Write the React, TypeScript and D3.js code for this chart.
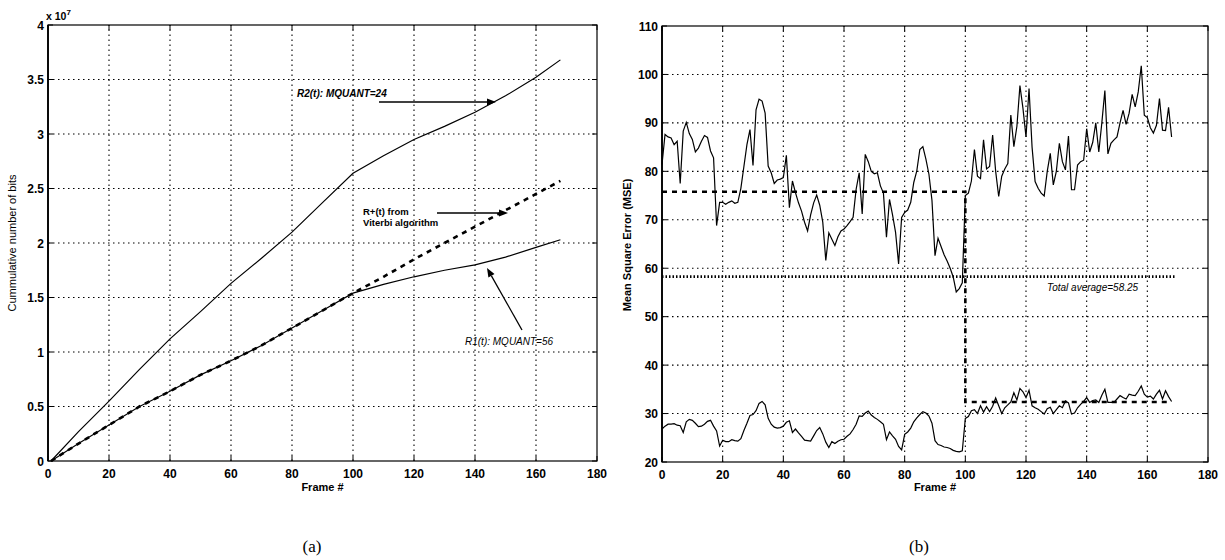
import React from 'react';
import * as d3 from 'd3';

// ---- data ----
const frameTicks = [0, 20, 40, 60, 80, 100, 120, 140, 160, 180];
const bitsTicks = [0, 0.5, 1, 1.5, 2, 2.5, 3, 3.5, 4]; // x 10^7
const mseTicks = [20, 30, 40, 50, 60, 70, 80, 90, 100, 110];

// (a) cumulative number of bits, in units of 10^7
const cumFrames = [1, 10, 20, 30, 40, 50, 60, 70, 80, 90, 100, 110, 120, 130, 140, 150, 160, 168];
const bitsR2 = [0, 0.27, 0.55, 0.84, 1.12, 1.37, 1.63, 1.86, 2.1, 2.37, 2.64, 2.8, 2.95, 3.07, 3.2, 3.35, 3.52, 3.68];
const bitsR1 = [0, 0.16, 0.33, 0.5, 0.64, 0.79, 0.92, 1.06, 1.22, 1.38, 1.54, 1.62, 1.69, 1.75, 1.8, 1.87, 1.96, 2.03];
const bitsViterbi = [0, 0.16, 0.33, 0.5, 0.64, 0.79, 0.92, 1.06, 1.22, 1.38, 1.54, 1.69, 1.85, 2.0, 2.15, 2.3, 2.45, 2.57];

// (b) MSE per frame, frames 0..168
const mseQuant56 = [
  81.4, 87.6, 87.1, 86.9, 85.5, 86.2, 77.5, 88.3, 90.1, 87.8,
  86.6, 84.0, 84.8, 86.2, 87.4, 87.0, 84.2, 82.8, 68.8, 73.6,
  73.6, 73.2, 73.6, 73.9, 73.4, 73.6, 76.5, 81.0, 85.5, 88.6,
  81.2, 92.7, 94.9, 94.5, 92.0, 81.1, 79.7, 77.5, 78.2, 78.4,
  78.7, 83.3, 72.5, 78.0, 75.6, 73.5, 71.8, 69.5, 67.7, 71.0,
  73.5, 75.1, 73.0, 69.5, 61.6, 67.3, 66.0, 64.7, 66.5, 67.7,
  68.1, 68.8, 69.6, 70.5, 76.3, 79.7, 71.2, 83.5, 82.0, 80.0,
  79.5, 79.7, 77.0, 75.5, 66.4, 74.2, 71.0, 67.4, 60.9, 70.5,
  71.5, 72.0, 73.6, 77.7, 80.1, 84.5, 85.1, 82.5, 79.4, 74.0,
  62.6, 66.2, 64.5, 62.8, 61.5, 60.0, 58.2, 55.1, 55.8, 57.0,
  75.0, 75.5, 78.0, 84.5, 79.0, 78.5, 86.5, 80.5, 81.0, 87.5,
  80.0, 74.8, 79.0, 80.5, 81.6, 91.6, 85.1, 89.3, 97.7, 93.0,
  87.1, 97.1, 85.0, 77.9, 76.5, 75.5, 74.9, 80.0, 83.7, 77.2,
  80.0, 85.8, 82.0, 80.3, 87.3, 76.2, 76.2, 81.3, 82.0, 82.3,
  88.8, 84.0, 86.0, 90.0, 84.0, 90.0, 96.7, 83.6, 85.8, 86.5,
  87.1, 90.0, 92.6, 89.7, 92.0, 95.9, 93.3, 96.4, 101.8, 91.6,
  91.1, 89.0, 87.9, 89.5, 95.0, 88.5, 88.4, 93.2, 87.1,
];
const mseQuant24 = [
  26.8, 27.4, 27.8, 27.8, 27.9, 27.6, 27.5, 26.1, 28.3, 28.8,
  28.6, 28.0, 27.3, 27.4, 27.8, 28.4, 28.6, 27.4, 26.4, 23.3,
  24.5, 24.2, 24.2, 24.6, 24.4, 24.3, 24.8, 26.5, 28.0, 29.6,
  29.8, 30.6, 32.1, 32.5, 31.8, 29.0, 27.8, 27.2, 27.0, 27.1,
  27.4, 28.2, 28.5, 26.1, 26.8, 26.0, 25.3, 24.5, 24.4, 24.3,
  25.4, 26.5, 27.1, 25.8, 24.1, 23.0, 24.2, 23.8, 24.3, 24.6,
  24.7, 25.3, 25.8, 26.7, 27.8, 29.5, 29.4, 30.1, 30.5, 29.7,
  29.2, 28.8, 28.3, 27.8, 24.6, 26.2, 25.4, 24.7, 23.2, 22.5,
  25.7, 26.2, 27.0, 28.3, 29.1, 29.8, 30.4, 30.1, 29.5, 28.0,
  24.4, 23.6, 23.4, 23.1, 23.0, 22.8, 22.4, 22.2, 22.1, 22.3,
  29.0, 29.4, 30.6, 30.8, 30.0, 31.6, 30.3, 31.4, 30.4, 31.5,
  33.2, 31.6, 30.0, 31.2, 31.8, 32.4, 34.3, 32.8, 35.2, 34.5,
  33.3, 34.8, 31.6, 31.2, 30.9, 30.4, 29.9, 31.0, 31.3, 30.0,
  30.8, 31.6, 31.2, 32.6, 32.2, 29.9, 30.1, 31.2, 31.9, 32.5,
  33.3, 32.3, 32.7, 32.8, 32.3, 33.8, 35.0, 32.3, 32.3, 32.3,
  33.0, 33.7, 33.3, 33.0, 34.0, 33.8, 33.7, 34.6, 35.7, 34.0,
  33.4, 33.6, 33.0, 34.0, 34.8, 33.0, 34.7, 33.5, 32.5,
];
const viterbiFrames = [0, 100, 100, 168];
const viterbiMse = [75.8, 75.8, 32.4, 32.4];
const averageFrames = [0, 169];
const totalAverage = 58.25;

const FONT = '"Liberation Sans", Arial, Helvetica, sans-serif';
const SERIF = "'Liberation Serif', 'Times New Roman', serif";

type Lin = d3.ScaleLinear<number, number>;

function Axes({ x, y, xTicks, yTicks, fmt }: { x: Lin; y: Lin; xTicks: number[]; yTicks: number[]; fmt: (v: number) => string }) {
  const [x0, x1] = x.range();
  const [y0, y1] = y.range(); // y0 bottom, y1 top
  const tl = 5;
  return (
    <g>
      {/* dotted grid */}
      {xTicks.slice(1, -1).map((t) => (
        <line key={'gx' + t} x1={x(t)} x2={x(t)} y1={y0} y2={y1} stroke="#000" strokeWidth={1.1} strokeDasharray="1.5,3.5" />
      ))}
      {yTicks.slice(1, -1).map((t) => (
        <line key={'gy' + t} x1={x0} x2={x1} y1={y(t)} y2={y(t)} stroke="#000" strokeWidth={1.1} strokeDasharray="1.5,3.5" />
      ))}
      {/* ticks on all four sides, pointing in */}
      {xTicks.map((t) => (
        <g key={'tx' + t}>
          <line x1={x(t)} x2={x(t)} y1={y0} y2={y0 - tl} stroke="#000" />
          <line x1={x(t)} x2={x(t)} y1={y1} y2={y1 + tl} stroke="#000" />
          <text x={x(t)} y={y0 + 17} textAnchor="middle" fontFamily={FONT} fontWeight="bold" fontSize={12}>{t}</text>
        </g>
      ))}
      {yTicks.map((t) => (
        <g key={'ty' + t}>
          <line x1={x0} x2={x0 + tl} y1={y(t)} y2={y(t)} stroke="#000" />
          <line x1={x1} x2={x1 - tl} y1={y(t)} y2={y(t)} stroke="#000" />
          <text x={x0 - 4} y={y(t) + 4.5} textAnchor="end" fontFamily={FONT} fontWeight="bold" fontSize={12}>{fmt(t)}</text>
        </g>
      ))}
      <rect x={x0} y={y1} width={x1 - x0} height={y0 - y1} fill="none" stroke="#000" strokeWidth={1.2} />
      <line x1={x0} x2={x0} y1={y0} y2={y1} stroke="#000" strokeWidth={1.8} />
    </g>
  );
}

function Arrow({ x1, y1, x2, y2 }: { x1: number; y1: number; x2: number; y2: number }) {
  const a = Math.atan2(y2 - y1, x2 - x1);
  const L = 9, W = 3.5;
  const bx = x2 - L * Math.cos(a), by = y2 - L * Math.sin(a);
  const px = -Math.sin(a) * W, py = Math.cos(a) * W;
  return (
    <g>
      <line x1={x1} y1={y1} x2={bx} y2={by} stroke="#000" strokeWidth={1.3} />
      <path d={`M${x2},${y2}L${bx + px},${by + py}L${bx - px},${by - py}Z`} fill="#000" />
    </g>
  );
}

export default function App() {
  // panel (a)
  const xa = d3.scaleLinear().domain([0, 180]).range([48, 597]);
  const ya = d3.scaleLinear().domain([0, 4]).range([461, 25]);
  const lineA = (vals: number[]) =>
    d3.line<number>().x((_, i) => xa(cumFrames[i])).y((v) => ya(v))(vals) || '';

  // panel (b)
  const xb = d3.scaleLinear().domain([0, 180]).range([662, 1208]);
  const yb = d3.scaleLinear().domain([20, 110]).range([462, 26]);
  const lineB = d3.line<number>().x((_, i) => xb(i)).y((v) => yb(v));
  const viterbiPath = d3.line<number>().x((_, i) => xb(viterbiFrames[i])).y((v) => yb(v))(viterbiMse) || '';
  const avgPath = d3.line<number>().x((f) => xb(f)).y(() => yb(totalAverage))(averageFrames) || '';

  return (
    <svg width={1225} height={560} style={{ position: 'absolute', left: 0, top: 0, background: '#fff' }}>
      <rect width={1225} height={560} fill="#fff" />

      {/* ---------- (a) ---------- */}
      <Axes x={xa} y={ya} xTicks={frameTicks} yTicks={bitsTicks} fmt={(v) => String(v)} />
      <path d={lineA(bitsR2)} fill="none" stroke="#000" strokeWidth={1.2} />
      <path d={lineA(bitsR1)} fill="none" stroke="#000" strokeWidth={1.2} />
      <path d={lineA(bitsViterbi)} fill="none" stroke="#000" strokeWidth={2.6} strokeDasharray="5,5" />

      <text x={46} y={20} fontFamily={FONT} fontSize={10.5} fontWeight="bold">
        x 10<tspan dy={-5} fontSize={8}>7</tspan>
      </text>
      <text transform="translate(16,243) rotate(-90)" textAnchor="middle" fontFamily={FONT} fontSize={11}>
        Cummulative number of bits
      </text>
      <text x={xa(90)} y={491} textAnchor="middle" fontFamily={FONT} fontWeight="bold" fontSize={11}>Frame #</text>

      <text x={297} y={97} fontFamily={FONT} fontSize={10} fontStyle="italic" fontWeight="bold">R2(t): MQUANT=24</text>
      <Arrow x1={379} y1={102} x2={496} y2={102} />
      <text x={363} y={215} fontFamily={FONT} fontSize={9.5} fontWeight="bold">R+(t) from</text>
      <text x={363} y={226} fontFamily={FONT} fontSize={9.5} fontWeight="bold">Viterbi algorithm</text>
      <Arrow x1={437} y1={213} x2={508} y2={213} />
      <text x={465} y={345} fontFamily={FONT} fontSize={10} fontStyle="italic">R1(t): MQUANT=56</text>
      <Arrow x1={522} y1={330} x2={487} y2={268} />

      <text x={312} y={552} textAnchor="middle" fontFamily={SERIF} fontSize={17}>(a)</text>

      {/* ---------- (b) ---------- */}
      <Axes x={xb} y={yb} xTicks={frameTicks} yTicks={mseTicks} fmt={(v) => String(v)} />
      <path d={lineB(mseQuant56) || ''} fill="none" stroke="#000" strokeWidth={1.2} />
      <path d={lineB(mseQuant24) || ''} fill="none" stroke="#000" strokeWidth={1.2} />
      <path d={viterbiPath} fill="none" stroke="#000" strokeWidth={2.6} strokeDasharray="5,5" />
      <path d={avgPath} fill="none" stroke="#000" strokeWidth={2.8} strokeDasharray="1.5,2" />

      <text x={1047} y={291} fontFamily={FONT} fontSize={10} fontStyle="italic">Total average=58.25</text>
      <text transform="translate(631,245) rotate(-90)" textAnchor="middle" fontFamily={FONT} fontWeight="bold" fontSize={11}>
        Mean Square Error (MSE)
      </text>
      <text x={xb(90)} y={491} textAnchor="middle" fontFamily={FONT} fontWeight="bold" fontSize={11}>Frame #</text>

      <text x={919} y={552} textAnchor="middle" fontFamily={SERIF} fontSize={17}>(b)</text>
    </svg>
  );
}
